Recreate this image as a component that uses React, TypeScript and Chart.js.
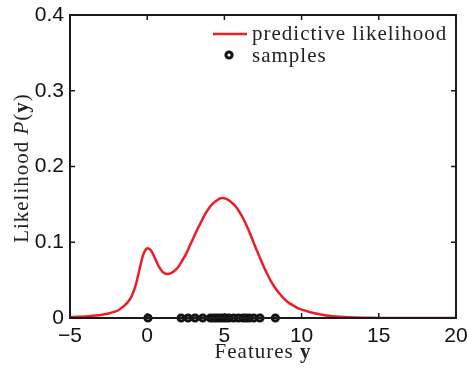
import React, { useEffect, useRef } from "react";
import { Chart, registerables } from "chart.js";

Chart.register(...registerables);

// Curve: predictive likelihood P(y)
const curveX = [
  -5, -4.5, -4, -3.5, -3, -2.5, -2, -1.75, -1.5, -1.25, -1, -0.75, -0.5, -0.25, 0, 0.25, 0.5, 0.75, 1, 1.25,
  1.5, 1.75, 2, 2.25, 2.5, 2.75, 3, 3.25, 3.5, 3.75, 4, 4.25, 4.5, 4.75, 5, 5.25, 5.5, 5.75, 6, 6.25, 6.5,
  6.75, 7, 7.25, 7.5, 7.75, 8, 8.25, 8.5, 8.75, 9, 9.25, 9.5, 9.75, 10, 10.5, 11, 11.5, 12, 12.5, 13, 14, 15,
  16, 17, 18, 19, 20,
];
const curveY = [
  0.001, 0.0015, 0.002, 0.003, 0.004, 0.006, 0.009, 0.012, 0.016, 0.021, 0.029, 0.043, 0.064, 0.084, 0.092,
  0.089, 0.079, 0.068, 0.061, 0.058, 0.059, 0.062, 0.067, 0.075, 0.084, 0.095, 0.106, 0.117, 0.127, 0.137,
  0.145, 0.151, 0.155, 0.158, 0.158, 0.156, 0.152, 0.147, 0.139, 0.13, 0.119, 0.107, 0.094, 0.082, 0.07,
  0.059, 0.049, 0.041, 0.034, 0.028, 0.023, 0.019, 0.016, 0.013, 0.011, 0.008, 0.0055, 0.0037, 0.0024,
  0.0015, 0.0009, 0.0003, 0.0001, 0, 0, 0, 0, 0,
];

// Samples (lie on y = 0)
const sampleX = [0.05, 2.2, 2.65, 3.1, 3.6, 4.1, 4.3, 4.5, 4.7, 4.9, 5.1, 5.3, 5.6, 5.9, 6.2, 6.4, 6.6, 6.9, 7.3, 8.3];

const xTicks = [-5, 0, 5, 10, 15, 20];
const yTicks = [0, 0.1, 0.2, 0.3, 0.4];

const seriesLabels = ["predictive likelihood", "samples"];
const yTitle = ["Likelihood ", "P", "(", "y", ")"];
const xTitle = ["Features ", "y"];

const RED = "#ee1c25";
const SERIF = "'Liberation Serif', 'DejaVu Serif', serif";
const SANS = "'Liberation Sans', Arial, sans-serif";

function drawSegments(ctx: any, segs: { t: string; f: string }[], cx: number, cy: number, rot: number) {
  ctx.save();
  ctx.translate(cx, cy);
  ctx.rotate(rot);
  ctx.letterSpacing = "1px";
  let total = 0;
  for (const s of segs) {
    ctx.font = s.f;
    total += ctx.measureText(s.t).width;
  }
  let x = -total / 2;
  ctx.textBaseline = "alphabetic";
  ctx.textAlign = "left";
  ctx.fillStyle = "#222";
  for (const s of segs) {
    ctx.font = s.f;
    ctx.fillText(s.t, x, 0);
    x += ctx.measureText(s.t).width;
  }
  ctx.restore();
}

const framePlugin = {
  id: "matlabFrame",
  afterDatasetsDraw(chart: any) {
    const { ctx, chartArea: a, scales } = chart;
    ctx.save();
    ctx.strokeStyle = "#1a1a1a";
    ctx.lineWidth = 2;
    ctx.strokeRect(a.left, a.top, a.right - a.left, a.bottom - a.top);
    ctx.lineWidth = 1.5;
    const tl = 5;
    for (const v of xTicks) {
      const px = scales.x.getPixelForValue(v);
      ctx.beginPath();
      ctx.moveTo(px, a.bottom);
      ctx.lineTo(px, a.bottom - tl);
      ctx.moveTo(px, a.top);
      ctx.lineTo(px, a.top + tl);
      ctx.stroke();
    }
    for (const v of yTicks) {
      const py = scales.y.getPixelForValue(v);
      ctx.beginPath();
      ctx.moveTo(a.left, py);
      ctx.lineTo(a.left + tl, py);
      ctx.moveTo(a.right, py);
      ctx.lineTo(a.right - tl, py);
      ctx.stroke();
    }
    ctx.restore();
  },
  afterDraw(chart: any) {
    const { ctx, chartArea: a } = chart;
    // Legend
    ctx.save();
    const lx = a.right - 243;
    ctx.strokeStyle = RED;
    ctx.lineWidth = 2.5;
    ctx.beginPath();
    ctx.moveTo(lx, 34);
    ctx.lineTo(lx + 34, 34);
    ctx.stroke();
    ctx.strokeStyle = "#111";
    ctx.lineWidth = 3;
    ctx.beginPath();
    ctx.arc(lx + 16, 55, 3.1, 0, Math.PI * 2);
    ctx.stroke();
    ctx.fillStyle = "#222";
    ctx.font = `21px ${SERIF}`;
    (ctx as any).letterSpacing = "1px";
    ctx.textAlign = "left";
    ctx.textBaseline = "alphabetic";
    ctx.fillText(seriesLabels[0], lx + 39, 40);
    ctx.fillText(seriesLabels[1], lx + 39, 62);
    ctx.restore();
    // Axis titles
    const f = `21px ${SERIF}`;
    drawSegments(
      ctx,
      [
        { t: yTitle[0], f },
        { t: yTitle[1], f: `italic ${f}` },
        { t: yTitle[2], f },
        { t: yTitle[3], f: `bold ${f}` },
        { t: yTitle[4], f },
      ],
      28,
      168,
      -Math.PI / 2
    );
    drawSegments(
      ctx,
      [
        { t: xTitle[0], f },
        { t: xTitle[1], f: `bold ${f}` },
      ],
      263,
      358,
      0
    );
  },
};

function fmt(v: number) {
  return v < 0 ? "\u2212" + Math.abs(v) : String(v);
}

export default function App() {
  const ref = useRef<HTMLCanvasElement>(null);
  useEffect(() => {
    document.body.style.margin = "0";
    const chart = new Chart(ref.current!, {
      type: "scatter",
      data: {
        datasets: [
          {
            label: seriesLabels[0],
            data: curveX.map((x, i) => ({ x, y: curveY[i] })),
            showLine: true,
            borderColor: RED,
            borderWidth: 2.5,
            pointRadius: 0,
            tension: 0.3,
            order: 1,
          } as any,
          {
            label: seriesLabels[1],
            data: sampleX.map((x) => ({ x, y: 0 })),
            showLine: false,
            pointStyle: "circle",
            pointRadius: 3.1,
            borderWidth: 3,
            borderColor: "#111",
            backgroundColor: "rgba(0,0,0,0)",
            clip: false,
            order: 0,
          } as any,
        ],
      },
      options: {
        responsive: false,
        animation: false,
        layout: { padding: { top: 15, right: 11, left: 0, bottom: 0 } },
        plugins: { legend: { display: false }, tooltip: { enabled: false } },
        scales: {
          x: {
            type: "linear",
            min: -5,
            max: 20,
            afterBuildTicks: (s: any) => {
              s.ticks = xTicks.map((v) => ({ value: v }));
            },
            afterFit: (s: any) => {
              s.height = 51;
              s.paddingLeft = 0;
              s.paddingRight = 0;
            },
            grid: { display: false, drawTicks: false },
            border: { display: false },
            ticks: {
              padding: 6,
              color: "#111",
              font: { family: SANS, size: 21 },
              maxRotation: 0,
              callback: (v: any) => fmt(Number(v)),
            },
          },
          y: {
            type: "linear",
            min: 0,
            max: 0.4,
            afterBuildTicks: (s: any) => {
              s.ticks = yTicks.map((v) => ({ value: v }));
            },
            afterFit: (s: any) => {
              s.width = 70;
              s.paddingTop = 0;
              s.paddingBottom = 0;
            },
            grid: { display: false, drawTicks: false },
            border: { display: false },
            ticks: {
              padding: 6,
              color: "#111",
              font: { family: SANS, size: 21 },
              callback: (v: any) => String(Number(v)),
            },
          },
        },
      },
      plugins: [framePlugin],
    });
    return () => chart.destroy();
  }, []);
  return (
    <div style={{ position: "absolute", left: 0, top: 0, width: 467, height: 369, background: "#fff" }}>
      <canvas ref={ref} width={467} height={369} style={{ display: "block", width: 467, height: 369 }} />
    </div>
  );
}
